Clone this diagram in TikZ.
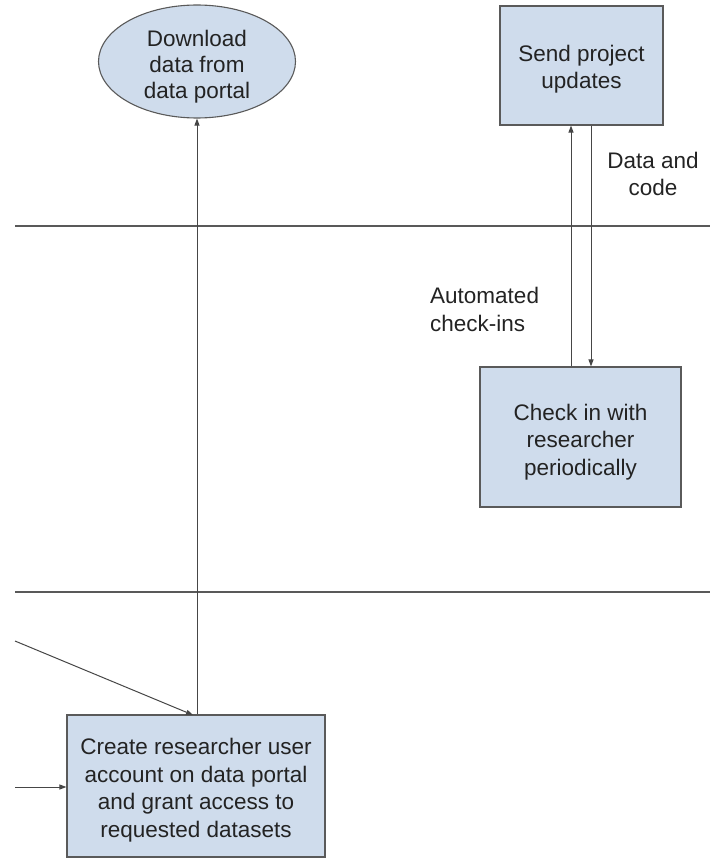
\documentclass[tikz,border=0pt]{standalone}
\usepackage{fontspec}
\setmainfont{Liberation Sans}
\usetikzlibrary{arrows.meta,shapes.geometric}
\definecolor{boxfill}{RGB}{207,220,236}
\definecolor{boxdraw}{RGB}{90,90,90}
\definecolor{linecol}{RGB}{70,70,70}
\definecolor{txt}{RGB}{35,35,35}
\tikzset{
  lbl/.style={font=\fontsize{22.5}{27.5}\selectfont, text=txt, align=center, inner sep=0pt},
  procbox/.style={rectangle, draw=boxdraw, fill=boxfill, line width=1.1pt, inner sep=0pt},
  termell/.style={ellipse, draw=boxdraw, fill=boxfill, line width=1.1pt, inner sep=0pt},
  arr/.style={draw=linecol, line width=1pt, -{Triangle[length=7pt,width=5pt]}},
  sep/.style={draw=linecol!90, line width=1.1pt}
}
\begin{document}
\begin{tikzpicture}[x=1pt,y=-1pt]
\useasboundingbox (0,0) rectangle (723,859);
% swimlane separators
\coordinate (l1a) at (15,226);
\coordinate (l1b) at (710,226);
\coordinate (l2a) at (15,592);
\coordinate (l2b) at (710,592);
\draw[sep] (l1a) -- (l1b);
\draw[sep] (l2a) -- (l2b);
% shapes
\node[termell, minimum width=197pt, minimum height=113pt] (dl) at (197,61.5) {};
\node[procbox, minimum width=163pt, minimum height=119pt] (send) at (581.5,65.5) {};
\node[procbox, minimum width=201pt, minimum height=140pt] (check) at (580.5,437) {};
\node[procbox, minimum width=258pt, minimum height=142pt] (create) at (196,786) {};
% texts inside shapes
\node[lbl, font=\fontsize{22.5}{26}\selectfont] (dltext) at ([yshift=-5pt]dl.center) {Download\\data from\\data portal};
\node[lbl] (sendtext) at ([yshift=-3.5pt]send.center) {Send project\\updates};
\node[lbl] (checktext) at ([yshift=-5pt]check.center) {Check in with\\researcher\\periodically};
\node[lbl] (createtext) at ([yshift=-4pt]create.center) {Create researcher user\\account on data portal\\and grant access to\\requested datasets};
% labels
\node[lbl] (datacode) at (653,174) {Data and\\code};
\node[lbl, align=left, anchor=west] (auto) at (430,309.5) {Automated\\check-ins};
% connector helpers
\coordinate (upx) at (571,0);
\coordinate (dnx) at (591,0);
\coordinate (diagstart) at (15,641);
\coordinate (diagend) at (193,715);
\coordinate (leftstart) at (15,787);
% connectors
\draw[arr] (create.north -| dl.south) -- (dl.south);
\draw[arr] (check.north -| upx) -- (send.south -| upx);
\draw[arr] (send.south -| dnx) -- (check.north -| dnx);
\draw[arr] (diagstart) -- (diagend);
\draw[arr] (leftstart) -- (create.west |- leftstart);
\end{tikzpicture}
\end{document}
